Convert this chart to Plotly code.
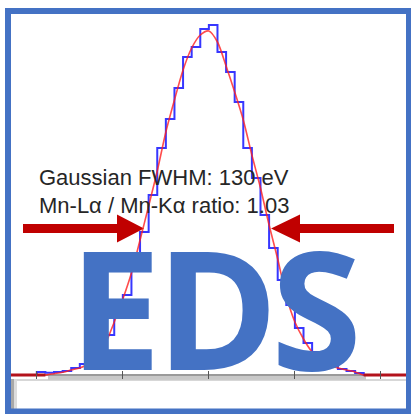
import plotly.graph_objects as go

# ---------------- data ----------------
# Histogram: 10 eV bins, values given at bin centres (eV) -> counts
bin_centers = [5675, 5685, 5695, 5705, 5715, 5725, 5735, 5745, 5755, 5765,
               5775, 5785, 5795, 5805, 5815, 5825, 5835, 5845, 5855, 5865,
               5875, 5885, 5895, 5905, 5915, 5925, 5935, 5945, 5955, 5965,
               5975, 5985, 5995, 6005, 6015, 6025, 6035, 6045, 6055, 6065,
               6075, 6085, 6095, 6105, 6115, 6125]
hist_counts = [0, 0, 0, 9, 7, 9, 12, 21, 33, 45,
               81, 120, 180, 240, 339, 429, 540, 681, 768, 861,
               954, 984, 1038, 1050, 969, 909, 819, 681, 591, 480,
               381, 285, 210, 141, 96, 69, 39, 27, 18, 12,
               6, 0, 0, 0, 0, 0]

# Gaussian fit curve, sampled every 10 eV
fit_energy = [5670, 5680, 5690, 5700, 5710, 5720, 5730, 5740, 5750, 5760,
              5770, 5780, 5790, 5800, 5810, 5820, 5830, 5840, 5850, 5860,
              5870, 5880, 5890, 5900, 5910, 5920, 5930, 5940, 5950, 5960,
              5970, 5980, 5990, 6000, 6010, 6020, 6030, 6040, 6050, 6060,
              6070, 6080, 6090, 6100, 6110, 6120, 6130]
fit_counts = [0, 0, 0, 0, 0, 4, 8, 15, 21, 33,
              54, 96, 159, 228, 306, 405, 507, 612, 729, 825,
              915, 981, 1020, 1032, 999, 927, 849, 765, 660, 561,
              450, 348, 237, 159, 108, 69, 45, 30, 21, 15,
              9, 0, 0, 0, 0, 0, 0]

tick_values = [5700, 5800, 5900, 6000, 6100]
label_lines = ["Gaussian FWHM: 130 eV", "Mn-L\u03b1 / Mn-K\u03b1 ratio: 1.03"]
big_letters = ["E", "D", "S"]

W, H = 411, 414


def px(x):
    return x / W


def py(y):
    return 1 - y / H


BLUE_FRAME = "#4472C4"
ARROW = "#C00000"

fig = go.Figure()
fig.add_trace(go.Scatter(x=bin_centers, y=hist_counts, mode="lines",
                         line=dict(color="#2222ff", width=2, shape="hvh"),
                         opacity=0.9, hoverinfo="skip"))
fig.add_trace(go.Scatter(x=fit_energy, y=fit_counts, mode="lines",
                         line=dict(color="#ff2020", width=1.6, shape="spline", smoothing=0.8),
                         opacity=0.8, hoverinfo="skip"))
# fit tails lying on the baseline (drawn darker/thicker, as on the axis)
for side in (slice(0, 5), slice(41, None)):
    fig.add_trace(go.Scatter(x=fit_energy[side], y=fit_counts[side], mode="lines",
                             line=dict(color="#b3121c", width=3.2),
                             hoverinfo="skip", cliponaxis=False))

shapes = []
# gray band under the axis
shapes.append(dict(type="rect", xref="paper", yref="paper",
                   x0=px(48), x1=px(366), y0=py(379.5), y1=py(375.5),
                   fillcolor="#c8c8c8", line=dict(width=0), layer="below"))
# lower white panel with shadow
shapes.append(dict(type="line", xref="paper", yref="paper",
                   x0=px(11), x1=px(407), y0=py(380), y1=py(380),
                   line=dict(color="#b0b0b0", width=1)))
shapes.append(dict(type="rect", xref="paper", yref="paper",
                   x0=px(11), x1=px(14), y0=py(410), y1=py(379),
                   fillcolor="#a8a8a8", line=dict(width=0)))
shapes.append(dict(type="rect", xref="paper", yref="paper",
                   x0=px(14), x1=px(17), y0=py(410), y1=py(379),
                   fillcolor="#dcdcdc", line=dict(width=0)))


def arrow_path(x_tail, x_base, x_tip, yc, half_shaft=4.5, half_head=14):
    pts = [(x_tail, yc - half_shaft), (x_base, yc - half_shaft), (x_base, yc - half_head),
           (x_tip, yc), (x_base, yc + half_head), (x_base, yc + half_shaft),
           (x_tail, yc + half_shaft)]
    return "M " + " L ".join(f"{px(a):.5f},{py(b):.5f}" for a, b in pts) + " Z"


shapes.append(dict(type="path", xref="paper", yref="paper",
                   path=arrow_path(23, 117, 144, 228.5),
                   fillcolor=ARROW, line=dict(width=0), layer="below"))
shapes.append(dict(type="path", xref="paper", yref="paper",
                   path=arrow_path(394, 300, 271, 228.5),
                   fillcolor=ARROW, line=dict(width=0), layer="below"))
# outer frame
shapes.append(dict(type="rect", xref="paper", yref="paper",
                   x0=px(8), x1=px(409), y0=py(411.5), y1=py(11),
                   line=dict(color=BLUE_FRAME, width=6), fillcolor="rgba(0,0,0,0)"))

annotations = []
for i, t in enumerate(label_lines):
    annotations.append(dict(text=t, xref="paper", yref="paper",
                            x=px(37), y=py(177.7 + i * 27.7), xanchor="left", yanchor="middle",
                            showarrow=False,
                            font=dict(family="Liberation Sans, Arial", size=22, color="#262626")))
letter_centers = [115, 217.5, 316.5]
for ch, cx in zip(big_letters, letter_centers):
    annotations.append(dict(text=f"<b>{ch}</b>", xref="paper", yref="paper",
                            x=px(cx), y=py(306), xanchor="center", yanchor="middle",
                            showarrow=False,
                            font=dict(family="Open Sans", size=165, color=BLUE_FRAME)))

fig.update_layout(
    width=W, height=H, autosize=False,
    margin=dict(l=0, r=0, t=0, b=0, pad=0),
    paper_bgcolor="white", plot_bgcolor="white",
    showlegend=False,
    shapes=shapes, annotations=annotations,
    xaxis=dict(domain=[px(11), px(407)], range=[5670, 6130.3],
               showgrid=False, zeroline=False, showline=False,
               tickvals=tick_values, showticklabels=False,
               ticks="inside", ticklen=8, tickwidth=1, tickcolor="#555555"),
    yaxis=dict(domain=[py(379), py(14)], range=[-12, 1083],
               showgrid=False, showline=False, showticklabels=False, ticks="",
               zeroline=True, zerolinecolor="#9a9a9a", zerolinewidth=1.5),
)

fig.write_html("out.html", config={"displayModeBar": False},
               post_script="document.body.style.margin='0';")
